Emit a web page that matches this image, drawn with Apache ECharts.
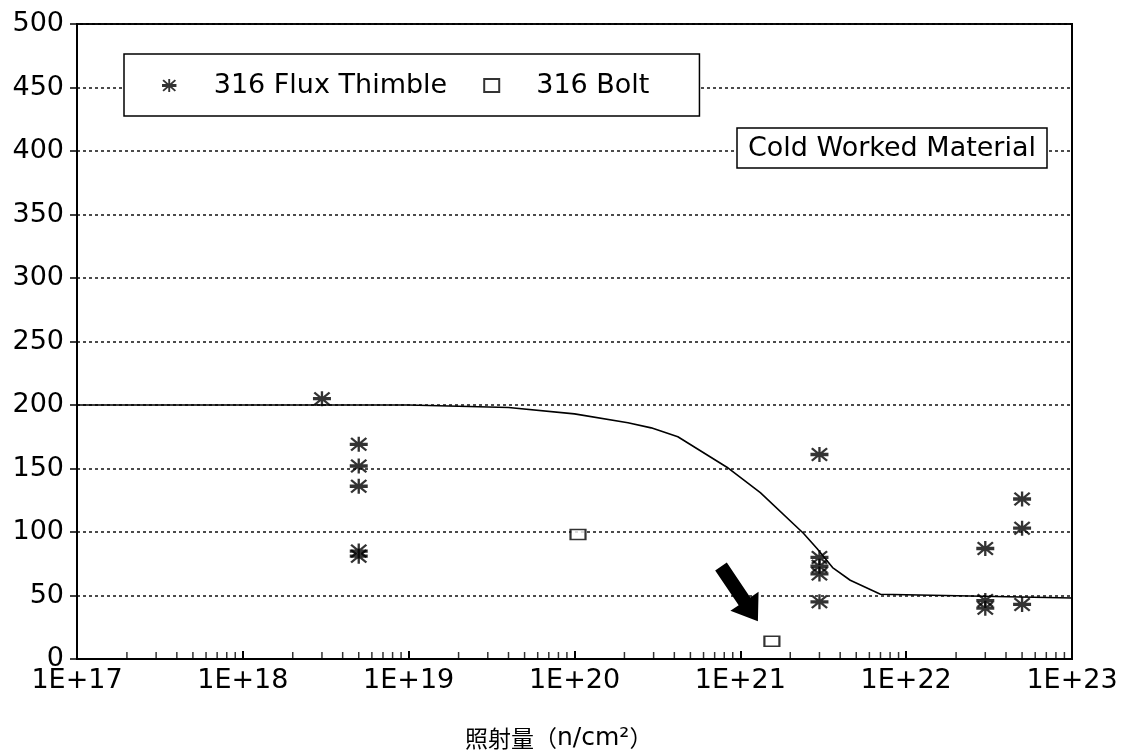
<!DOCTYPE html>
<html>
<head>
<meta charset="utf-8">
<script src="https://cdn.jsdelivr.net/npm/echarts@6/dist/echarts.min.js"></script>
<style>
  html, body { margin: 0; padding: 0; background: #fff; }
  #chart { width: 1133px; height: 756px; }
</style>
</head>
<body>
<div id="chart"></div>
<script>
// flux values (n/cm2) and strength
const thimbleX = [3e18, 5e18, 5e18, 5e18, 5e18, 5e18, 3e21, 3e21, 3e21, 3e21, 3e21, 3e22, 3e22, 3e22, 5e22, 5e22, 5e22];
const thimbleY = [205, 169, 152, 136, 85, 81, 161, 80, 73, 67, 45, 87, 46, 40, 126, 103, 43];
const boltX = [1.05e20, 1.55e21];
const boltY = [98, 14];
const curveX = [1e17, 1e19, 2e19, 4e19, 1e20, 2.1e20, 2.9e20, 4.2e20, 8.3e20, 1.32e21, 2.4e21, 2.9e21, 3.6e21, 4.6e21, 7e21, 1e23];
const curveY = [200, 200, 199, 198, 193, 186, 182, 175, 151, 131, 99, 87, 72, 62, 51, 48];
const tickMultipliers = [2, 3, 4, 5, 6, 7, 8, 9];
const tickDecades = [17, 18, 19, 20, 21, 22];

const zip = (xs, ys) => xs.map((x, i) => [x, ys[i]]);
const minorTicks = [];
tickDecades.forEach(d => tickMultipliers.forEach(m => minorTicks.push([m * Math.pow(10, d), 0])));

// heavy "ж"-like asterisk marker
const asterisk = 'path://M-1.3,-9L1.3,-9L1.3,9L-1.3,9Z' +
  'M-10,-2L10,-2L10,2L-10,2Z' +
  'M-9.4,-6.6L-7.6,-8.4L9.4,6.6L7.6,8.4Z' +
  'M7.6,-8.4L9.4,-6.6L-7.6,8.4L-9.4,6.6Z';

const font = 'DejaVu Sans';
const chart = echarts.init(document.getElementById('chart'));

const option = {
  backgroundColor: '#fff',
  animation: false,
  textStyle: { fontFamily: font, color: '#000' },
  grid: {
    left: 77, right: 61, top: 24, bottom: 97,
    show: true, borderColor: '#000', borderWidth: 2, backgroundColor: 'transparent'
  },
  title: [
    {
      text: 'Cold Worked Material',
      left: 737, top: 128,
      padding: [7, 11, 6, 11],
      borderColor: '#000', borderWidth: 1.5,
      backgroundColor: '#fff',
      textStyle: { fontFamily: font, fontSize: 27, fontWeight: 'normal', color: '#000' }
    },
    {
      text: '{c|照射量（}{l|n/cm²}{c|）}',
      left: 465, top: 726,
      padding: 0,
      textStyle: {
        fontWeight: 'normal',
        rich: {
          c: { fontFamily: 'Noto Sans CJK SC', fontSize: 23, fontWeight: 'normal', color: '#000' },
          l: { fontFamily: font, fontSize: 25, fontWeight: 'normal', color: '#000' }
        }
      }
    }
  ],
  legend: {
    data: ['316 Flux Thimble', '316 Bolt'],
    left: 124, top: 54,
    orient: 'horizontal',
    padding: [18, 50, 17, 38],
    itemGap: 36,
    itemWidth: 15, itemHeight: 13,
    borderColor: '#000', borderWidth: 1.5,
    backgroundColor: '#fff',
    selectedMode: false,
    textStyle: { fontFamily: font, fontSize: 27, color: '#000', padding: [0, 0, 0, 32] }
  },
  xAxis: {
    type: 'log',
    logBase: 10,
    min: 1e17, max: 1e23,
    axisLine: { show: true, lineStyle: { color: '#000', width: 2 } },
    axisTick: { show: true, inside: true, length: 8, lineStyle: { color: '#000', width: 2 } },
    splitLine: { show: false },
    axisLabel: {
      fontFamily: font, fontSize: 27, color: '#000', margin: 8,
      formatter: v => '1E+' + Math.round(Math.log10(v))
    }
  },
  yAxis: {
    type: 'value',
    min: 0, max: 500, interval: 50,
    axisLine: { show: true, lineStyle: { color: '#000', width: 2 } },
    axisTick: { show: true, length: 7, lineStyle: { color: '#000', width: 1.5 } },
    splitLine: { show: true, lineStyle: { color: '#111', width: 1.5, type: [3, 3] } },
    axisLabel: { fontFamily: font, fontSize: 27, color: '#000', margin: 13 }
  },
  series: [
    {
      name: 'minor',
      type: 'scatter',
      data: minorTicks,
      symbol: 'rect',
      symbolSize: [1.5, 7],
      symbolOffset: [0, -3.5],
      itemStyle: { color: '#000' },
      silent: true,
      z: 1
    },
    {
      name: 'curve',
      type: 'line',
      data: zip(curveX, curveY),
      showSymbol: false,
      symbol: 'none',
      lineStyle: { color: '#000', width: 1.6 },
      silent: true,
      z: 2
    },
    {
      name: '316 Flux Thimble',
      type: 'scatter',
      data: zip(thimbleX, thimbleY),
      symbol: asterisk,
      symbolSize: [18, 15],
      itemStyle: { color: '#000' },
      z: 3
    },
    {
      name: '316 Bolt',
      type: 'scatter',
      data: zip(boltX, boltY),
      symbol: 'rect',
      symbolSize: [15, 10],
      itemStyle: { color: '#fff', borderColor: '#000', borderWidth: 1.8 },
      z: 3
    }
  ]
};
chart.setOption(option);

// arrow pointing at the low bolt value
const tip = chart.convertToPixel({ seriesIndex: 3 }, [boltX[1], boltY[1]]);
chart.setOption({
  graphic: [{
    type: 'polygon',
    x: tip[0] - 14, y: tip[1] - 20,
    rotation: -56 * Math.PI / 180,
    shape: { points: [[-66, -7], [-24, -7], [-24, -17], [0, 0], [-24, 17], [-24, 7], [-66, 7]] },
    style: { fill: '#000' },
    z: 10
  }]
});
</script>
</body>
</html>
